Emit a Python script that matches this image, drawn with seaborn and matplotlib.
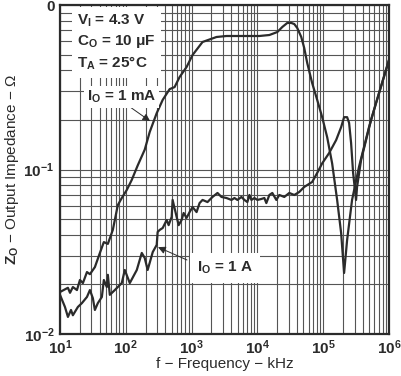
import numpy as np
import pandas as pd
import seaborn as sns
import matplotlib
matplotlib.use("Agg")
import matplotlib.pyplot as plt
from matplotlib.ticker import LogLocator, FixedLocator, NullFormatter

# Output impedance vs frequency
freq_1ma = [10, 13.2, 14.2, 15.7, 18.1, 20.1, 22.3, 25.7, 28.5, 33.9, 40.4, 46.4, 53.4,
            63.5, 75.7, 86.9, 103.5, 123, 152, 194, 231, 295, 364, 464, 552, 658, 840,
            1036, 1468, 2392, 3390, 5337, 10720, 15210, 20100, 23930, 28510, 32740,
            36390, 40360, 46450, 51520, 57230, 68060, 81100, 96600, 115100, 136800,
            163000, 187500, 208000, 231200, 274800, 350800, 497700, 635300, 1000000]
z_1ma = [0.0180, 0.0191, 0.0178, 0.0193, 0.0185, 0.0213, 0.0204, 0.0238, 0.0231, 0.0255,
         0.0311, 0.0362, 0.0353, 0.0429, 0.0608, 0.0671, 0.0751, 0.0863, 0.106, 0.132,
         0.169, 0.220, 0.265, 0.308, 0.317, 0.365, 0.420, 0.497, 0.596, 0.639, 0.648,
         0.648, 0.648, 0.657, 0.685, 0.735, 0.778, 0.778, 0.766, 0.725, 0.639, 0.548,
         0.444, 0.335, 0.265, 0.208, 0.157, 0.109, 0.0653, 0.0411, 0.0235, 0.0373,
         0.0653, 0.104, 0.181, 0.253, 0.463]

freq_1a = [10, 11.9, 13.2, 14.7, 15.7, 18.7, 21.5, 25.7, 28.5, 31.6, 33.9, 37.6, 43.3,
           46.4, 51.5, 53.4, 57.2, 68.1, 86.9, 96.6, 115, 147, 175, 194, 215, 257, 295,
           305, 327, 364, 418, 448, 498, 515, 593, 636, 705, 757, 840, 933, 1036, 1191,
           1322, 1468, 1746, 2080, 2477, 2848, 3390, 4036, 4487, 4977, 5728, 6353, 7047,
           7568, 8110, 9016, 10000, 11510, 12770, 13680, 15210, 16870, 19410, 21540,
           25650, 30550, 36390, 43290, 51520, 68060, 81100, 96600, 123300, 157400,
           187500, 208000, 231200, 247800, 265600, 285100, 316200, 327300, 376700,
           448700, 533300, 657700, 1000000]
z_1a = [0.0173, 0.0146, 0.0127, 0.0140, 0.0130, 0.0146, 0.0154, 0.0168, 0.0185, 0.0165,
        0.0140, 0.0154, 0.0168, 0.0213, 0.0193, 0.0229, 0.0173, 0.0185, 0.0204, 0.0245,
        0.0204, 0.0245, 0.0311, 0.0290, 0.0245, 0.0315, 0.0348, 0.0417, 0.0429, 0.0441,
        0.0493, 0.0459, 0.0515, 0.0653, 0.0515, 0.0459, 0.0493, 0.0544, 0.0508, 0.0551,
        0.0591, 0.0551, 0.0625, 0.0653, 0.0634, 0.0681, 0.0720, 0.0681, 0.0671, 0.0653,
        0.0671, 0.0653, 0.0681, 0.0653, 0.0634, 0.0700, 0.0653, 0.0671, 0.0653, 0.0662,
        0.0671, 0.0625, 0.0700, 0.0720, 0.0653, 0.0700, 0.0681, 0.0720, 0.0700, 0.0730,
        0.0783, 0.0840, 0.0953, 0.109, 0.126, 0.151, 0.181, 0.208, 0.208, 0.192, 0.145,
        0.0953, 0.0653, 0.0783, 0.114, 0.151, 0.200, 0.265, 0.463]

x_ticks = [1e1, 1e2, 1e3, 1e4, 1e5, 1e6]
x_ticklabels = [r"$10^{1}$", r"$10^{2}$", r"$10^{3}$", r"$10^{4}$", r"$10^{5}$", r"$10^{6}$"]
y_ticks = [1e-2, 1e-1, 1]
y_ticklabels = [r"$10^{-2}$", r"$10^{-1}$", "0"]

sns.set_style("white")
plt.rcParams["font.family"] = ["Liberation Sans", "DejaVu Sans"]
plt.rcParams["font.weight"] = "bold"
plt.rcParams["mathtext.fontset"] = "custom"
plt.rcParams["mathtext.rm"] = "Liberation Sans:bold"
plt.rcParams["mathtext.it"] = "Liberation Sans:bold"
plt.rcParams["mathtext.bf"] = "Liberation Sans:bold"
plt.rcParams["mathtext.default"] = "rm"

ink = "#2b2b2b"

fig = plt.figure(figsize=(4.01, 3.76), dpi=100)
ax = fig.add_axes([0.1496, 0.1117, 0.8204, 0.875])

df_1ma = pd.DataFrame({"f": freq_1ma, "z": z_1ma})
df_1a = pd.DataFrame({"f": freq_1a, "z": z_1a})
sns.lineplot(data=df_1ma, x="f", y="z", ax=ax, color=ink, lw=1.6, sort=False, estimator=None)
sns.lineplot(data=df_1a, x="f", y="z", ax=ax, color=ink, lw=1.6, sort=False, estimator=None)

ax.set_xscale("log")
ax.set_yscale("log")
ax.set_xlim(10, 1e6)
ax.set_ylim(1e-2, 1)

ax.xaxis.set_major_locator(FixedLocator(x_ticks))
ax.set_xticklabels(x_ticklabels)
ax.yaxis.set_major_locator(FixedLocator(y_ticks))
ax.set_yticklabels(y_ticklabels)
ax.xaxis.set_minor_locator(LogLocator(base=10, subs=np.arange(2, 10)))
ax.yaxis.set_minor_locator(LogLocator(base=10, subs=np.arange(2, 10)))
ax.xaxis.set_minor_formatter(NullFormatter())
ax.yaxis.set_minor_formatter(NullFormatter())

ax.grid(True, which="both", color="#555555", lw=0.8)
ax.tick_params(which="both", length=0, labelsize=11, colors=ink)
ax.tick_params(axis="x", pad=3)
ax.tick_params(axis="y", pad=4)
for s in ax.spines.values():
    s.set_color(ink)
    s.set_linewidth(1.6)

ax.set_xlabel("f − Frequency − kHz", fontsize=11, color=ink, labelpad=0)
ax.set_ylabel(r"$Z_O$ − Output Impedance − Ω", fontsize=11, color=ink, labelpad=2)

ax.text(0.052, 0.976, "$V_I$ = 4.3 V\n$C_O$ = 10 μF\n$T_A$ = 25°C", transform=ax.transAxes,
        fontsize=11, color=ink, va="top", ha="left", linespacing=1.35,
        bbox=dict(facecolor="white", edgecolor="none", pad=4))

arrow = dict(arrowstyle="-|>", color=ink, lw=0.7, mutation_scale=11, shrinkA=0, shrinkB=0)
ax.annotate("", xy=(0.274, 0.647), xytext=(0.213, 0.690), xycoords="axes fraction",
            textcoords="axes fraction", arrowprops=arrow)
ax.text(0.082, 0.720, "$I_O$ = 1 mA", transform=ax.transAxes, fontsize=11, color=ink,
        va="center", ha="left", bbox=dict(facecolor="white", edgecolor="none", pad=2))
ax.annotate("", xy=(0.298, 0.264), xytext=(0.386, 0.225), xycoords="axes fraction",
            textcoords="axes fraction", arrowprops=arrow)
ax.text(0.416, 0.200, "$I_O$ = 1 A", transform=ax.transAxes, fontsize=11, color=ink,
        va="center", ha="left", bbox=dict(facecolor="white", edgecolor="none", pad=5))

fig.savefig("out.png", dpi=100)
